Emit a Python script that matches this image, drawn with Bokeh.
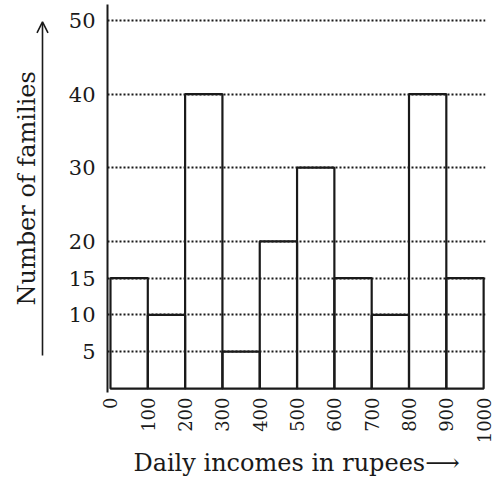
import math
from bokeh.plotting import figure
from bokeh.layouts import row
from bokeh.models import FixedTicker, Arrow, OpenHead, Range1d
from bokeh.core.properties import value
from bokeh.embed import file_html
from bokeh.resources import INLINE

# Data
bin_edges = [0, 100, 200, 300, 400, 500, 600, 700, 800, 900, 1000]
families = [15, 10, 40, 5, 20, 30, 15, 10, 40, 15]
y_ticks = [5, 10, 15, 20, 30, 40, 50]
x_label = "Daily incomes in rupees\u27f6"
y_label = "Number of families"

lefts = bin_edges[:-1]
rights = bin_edges[1:]

INK = "#1a1a1a"
FONT = "DejaVu Serif"
H = 480
TOP = 4
BOTTOM = 88
Y_START, Y_END = -0.54, 52.17

yr = Range1d(Y_START, Y_END)

# ---- left strip: y title and its arrow ----
side = figure(width=50, height=H, output_backend="svg", toolbar_location=None,
              x_range=(0, 50), y_range=yr, x_axis_type=None, y_axis_type=None,
              min_border_left=0, min_border_right=0, min_border_top=TOP,
              min_border_bottom=BOTTOM)
side.outline_line_color = None
side.xgrid.visible = False
side.ygrid.visible = False
side.text(x=[26], y=[27.2], text=[y_label], angle=math.pi / 2,
          text_align="center", text_baseline="middle",
          text_font=value(FONT), text_font_size="24px", text_color=INK)
side.add_layout(Arrow(end=OpenHead(size=11, line_width=1.6, line_color=INK),
                      x_start=42, y_start=4.5, x_end=42, y_end=49.8,
                      line_color=INK, line_width=1.6))

# ---- main histogram ----
p = figure(width=446, height=H, output_backend="svg", toolbar_location=None,
           x_range=(-8, 1005), y_range=yr,
           min_border_left=57, min_border_right=11, min_border_top=TOP,
           min_border_bottom=BOTTOM)
p.outline_line_color = None
p.background_fill_color = "white"

p.xgrid.visible = False
p.ygrid.ticker = FixedTicker(ticks=y_ticks)
p.ygrid.grid_line_color = INK
p.ygrid.grid_line_dash = "2 2"
p.ygrid.grid_line_width = 2

p.quad(left=lefts, right=rights, bottom=0, top=families,
       fill_color=None, line_color=INK, line_width=2.2)

xa = p.xaxis[0]
xa.ticker = FixedTicker(ticks=bin_edges)
xa.axis_line_color = None
xa.major_tick_line_color = None
xa.minor_tick_line_color = None
xa.major_tick_out = 0
xa.major_tick_in = 0
xa.minor_tick_out = 0
xa.minor_tick_in = 0
xa.major_label_orientation = math.pi / 2
xa.major_label_text_font = FONT
xa.major_label_text_font_size = "18px"
xa.major_label_text_color = INK
xa.major_label_standoff = 5
xa.axis_label = x_label
xa.axis_label_text_font = FONT
xa.axis_label_text_font_size = "24px"
xa.axis_label_text_font_style = "normal"
xa.axis_label_text_color = INK
xa.axis_label_standoff = 3

ya = p.yaxis[0]
ya.ticker = FixedTicker(ticks=y_ticks)
ya.bounds = (Y_START, Y_END)
ya.axis_line_color = INK
ya.axis_line_width = 2
ya.major_tick_line_color = None
ya.minor_tick_line_color = None
ya.major_tick_out = 0
ya.major_tick_in = 0
ya.minor_tick_out = 0
ya.minor_tick_in = 0
ya.major_label_text_font = FONT
ya.major_label_text_font_size = "21px"
ya.major_label_text_color = INK
ya.major_label_standoff = 12

layout = row(side, p)
open("out.html", "w").write(file_html(layout, INLINE))
